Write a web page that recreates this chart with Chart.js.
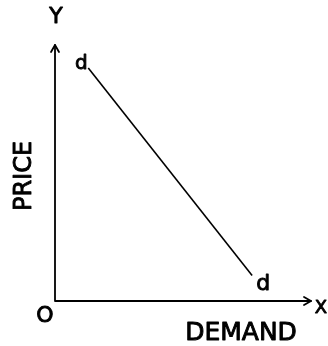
<!DOCTYPE html>
<html>
<head>
<meta charset="utf-8">
<script src="https://cdn.jsdelivr.net/npm/chart.js@4"></script>
<style>
  html, body { margin: 0; padding: 0; background: #fff; }
  canvas { display: block; }
</style>
</head>
<body>
<canvas id="demandChart" width="328" height="346"></canvas>
<script>
// demand schedule (arbitrary units, no ticks on the original)
const demandQty = [1.3, 7.7];
const demandPrice = [9.1, 1.0];
const curveLabels = ['d', 'd'];
const axisMax = 10;

const font = '"DejaVu Sans", sans-serif';

// filled + thin stroke so the letters look hand inked
function ink(ctx, text, x, y, size) {
  ctx.font = size + 'px ' + font;
  ctx.fillText(text, x, y);
  ctx.strokeText(text, x, y);
}

const sketchAxes = {
  id: 'sketchAxes',
  afterDraw(chart) {
    const ctx = chart.ctx;
    const x = chart.scales.x;
    const y = chart.scales.y;
    const x0 = x.getPixelForValue(0);
    const y0 = y.getPixelForValue(0);
    const xe = x.getPixelForValue(axisMax);
    const ye = y.getPixelForValue(axisMax);

    ctx.save();
    ctx.strokeStyle = '#000';
    ctx.lineWidth = 1.8;
    ctx.lineCap = 'round';
    ctx.lineJoin = 'round';

    // axes
    ctx.beginPath();
    ctx.moveTo(x0, ye);
    ctx.lineTo(x0, y0);
    ctx.lineTo(xe, y0);
    ctx.stroke();

    // arrow heads
    ctx.beginPath();
    ctx.moveTo(x0 - 4, ye + 7);
    ctx.lineTo(x0, ye);
    ctx.lineTo(x0 + 4, ye + 7);
    ctx.moveTo(xe - 7, y0 - 4);
    ctx.lineTo(xe, y0);
    ctx.lineTo(xe - 7, y0 + 4);
    ctx.stroke();

    ctx.fillStyle = '#000';
    ctx.lineWidth = 0.9;
    ctx.textAlign = 'center';
    ctx.textBaseline = 'alphabetic';

    ink(ctx, 'Y', x0 + 1, ye - 22, 22);
    ink(ctx, 'X', xe + 10, y0 + 12, 18);
    ink(ctx, 'O', x0 - 10, y0 + 21, 22);
    ink(ctx, 'DEMAND', 241, y0 + 39, 25);

    ctx.save();
    ctx.translate(31, 176);
    ctx.rotate(-Math.PI / 2);
    ink(ctx, 'PRICE', 0, 0, 24);
    ctx.restore();

    // curve end labels
    const p0x = x.getPixelForValue(demandQty[0]);
    const p0y = y.getPixelForValue(demandPrice[0]);
    const p1x = x.getPixelForValue(demandQty[1]);
    const p1y = y.getPixelForValue(demandPrice[1]);
    ink(ctx, curveLabels[0], p0x - 7, p0y + 1, 20);
    ink(ctx, curveLabels[1], p1x + 11, p1y + 15, 22);

    ctx.restore();
  }
};

new Chart(document.getElementById('demandChart'), {
  type: 'scatter',
  data: {
    datasets: [{
      label: 'Demand',
      data: demandQty.map((q, i) => ({ x: q, y: demandPrice[i] })),
      showLine: true,
      borderColor: '#000',
      borderWidth: 1.6,
      pointRadius: 0,
      fill: false
    }]
  },
  options: {
    responsive: false,
    animation: false,
    layout: { padding: { left: 55, right: 17, top: 45, bottom: 45 } },
    plugins: {
      legend: { display: false },
      tooltip: { enabled: false }
    },
    scales: {
      x: { type: 'linear', min: 0, max: axisMax, display: false },
      y: { type: 'linear', min: 0, max: axisMax, display: false }
    }
  },
  plugins: [sketchAxes]
});
</script>
</body>
</html>
